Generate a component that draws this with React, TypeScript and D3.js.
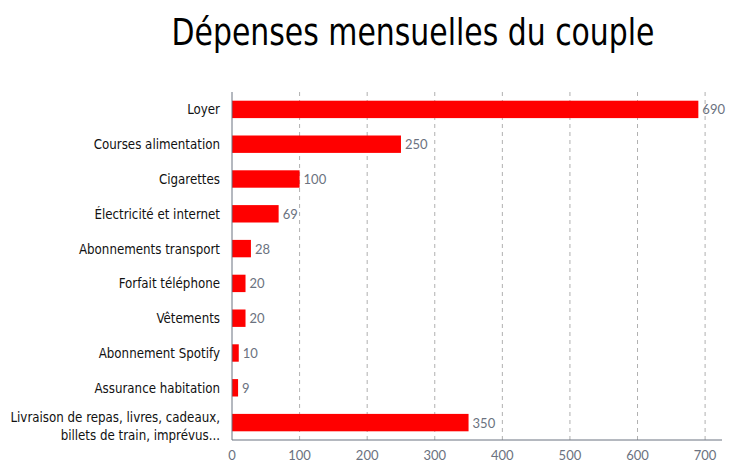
import React from "react";
import * as d3 from "d3";

const categories = [
  "Loyer",
  "Courses alimentation",
  "Cigarettes",
  "Électricité et internet",
  "Abonnements transport",
  "Forfait téléphone",
  "Vêtements",
  "Abonnement Spotify",
  "Assurance habitation",
  "Livraison de repas, livres, cadeaux,|billets de train, imprévus...",
];
const values = [690, 250, 100, 69, 28, 20, 20, 10, 9, 350];
const xTicks = [0, 100, 200, 300, 400, 500, 600, 700];
const title = "Dépenses mensuelles du couple";

const W = 737;
const H = 475;
const margin = { left: 232, right: 15, top: 92, bottom: 35 };

export default function App() {
  const x = d3.scaleLinear().domain([0, 725]).range([margin.left, margin.left + 490]);
  const y = d3
    .scaleBand()
    .domain(categories)
    .range([margin.top, H - margin.bottom])
    .paddingInner(0.5)
    .paddingOuter(0.25);
  const bottom = H - margin.bottom;
  const condensed = "'DejaVu Sans Condensed', 'Liberation Sans Narrow', sans-serif";
  return (
    <svg width={W} height={H} style={{ position: "absolute", left: 0, top: 0 }}>
      <rect width={W} height={H} fill="#fff" />
      <text
        x={413}
        y={45}
        textAnchor="middle"
        fontFamily={condensed}
        fontSize={38}
        fill="#000"
        textLength={483}
        lengthAdjust="spacingAndGlyphs"
      >
        {title}
      </text>
      {xTicks.slice(1).map((t) => (
        <line key={t} x1={x(t)} x2={x(t)} y1={margin.top} y2={bottom} stroke="#b0b0b0" strokeDasharray="4,4" />
      ))}
      {categories.map((c, i) => (
        <rect key={c} x={x(0)} y={y(c)!} width={x(values[i]) - x(0)} height={y.bandwidth()} fill="#ff0000" />
      ))}
      {categories.map((c, i) => (
        <text
          key={c + "v"}
          x={x(values[i]) + 4}
          y={y(c)! + y.bandwidth() / 2 + 5}
          fontFamily="Lato, sans-serif"
          fontSize={13}
          fill="#6b7280"
        >
          {values[i]}
        </text>
      ))}
      {categories.map((c) => {
        const lines = c.split("|");
        const cy = y(c)! + y.bandwidth() / 2;
        const shift = lines.length > 1 ? 8 : 5;
        return (
          <text key={c + "l"} textAnchor="end" fontFamily={condensed} fontSize={13.2} fill="#111">
            {lines.map((l, j) => (
              <tspan key={j} x={220} y={cy + shift + (j - (lines.length - 1) / 2) * 18}>
                {l}
              </tspan>
            ))}
          </text>
        );
      })}
      <line x1={x(0)} x2={x(0)} y1={margin.top} y2={bottom} stroke="#6b7280" />
      <line x1={x(0)} x2={x(725)} y1={bottom} y2={bottom} stroke="#6b7280" />
      {xTicks.map((t) => (
        <text key={t + "t"} x={x(t)} y={bottom + 20} textAnchor="middle" fontFamily="Lato, sans-serif" fontSize={13} fill="#6b7280">
          {t}
        </text>
      ))}
    </svg>
  );
}
